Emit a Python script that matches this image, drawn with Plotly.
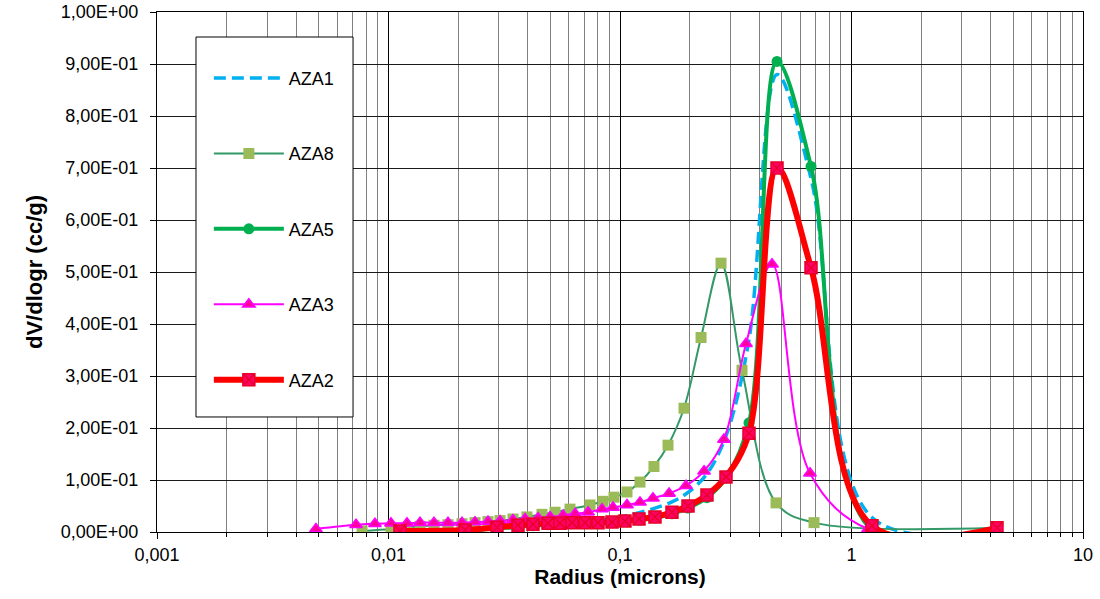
import plotly.graph_objects as go

# ---- data ----
x_aza3 = [0.00486, 0.00724, 0.00874, 0.01025, 0.01202, 0.01368, 0.01572, 0.01807, 0.02077,
          0.02364, 0.02690, 0.03032, 0.03450, 0.03889, 0.04426, 0.04989, 0.05677, 0.06399,
          0.07282, 0.08360, 0.09328, 0.1072, 0.1220, 0.1388, 0.1629, 0.1928, 0.2307, 0.2812,
          0.3502, 0.4535, 0.6617, 1.178, 4.251]
y_aza3 = [0.006, 0.014, 0.016, 0.017, 0.017, 0.018, 0.018, 0.018, 0.018,
          0.019, 0.020, 0.021, 0.023, 0.025, 0.027, 0.029, 0.032, 0.035,
          0.038, 0.044, 0.047, 0.052, 0.057, 0.065, 0.074, 0.089, 0.117, 0.178,
          0.362, 0.515, 0.113, 0.006, 0.002]

x_aza8 = [0.007685, 0.01025, 0.01202, 0.01368, 0.01572, 0.01807, 0.02077, 0.02364, 0.02690,
          0.03032, 0.03450, 0.03965, 0.04603, 0.05239, 0.06081, 0.07421, 0.08446, 0.09421,
          0.1072, 0.1220, 0.1402, 0.1612, 0.1890, 0.2239, 0.2731, 0.3365, 0.4720, 0.6887, 4.251]
y_aza8 = [0.002, 0.006, 0.009, 0.011, 0.013, 0.014, 0.016, 0.018, 0.020,
          0.022, 0.025, 0.029, 0.034, 0.038, 0.044, 0.052, 0.059, 0.067,
          0.077, 0.096, 0.126, 0.167, 0.238, 0.374, 0.517, 0.311, 0.056, 0.018, 0.008]

x_common = [0.01121, 0.02141, 0.02942, 0.03626, 0.04209, 0.04887, 0.05505, 0.06203, 0.07060,
            0.08035, 0.09235, 0.1051, 0.1208, 0.1416, 0.1677, 0.1967, 0.2375, 0.2870,
            0.3607, 0.4768, 0.6685, 1.226, 4.251]
y_aza2 = [0.002, 0.004, 0.009, 0.013, 0.015, 0.017, 0.017, 0.018, 0.018,
          0.018, 0.019, 0.021, 0.025, 0.029, 0.038, 0.050, 0.071, 0.106,
          0.190, 0.700, 0.508, 0.012, 0.008]
y_aza5 = [0.001, 0.003, 0.007, 0.010, 0.012, 0.014, 0.015, 0.016, 0.017,
          0.017, 0.018, 0.020, 0.023, 0.027, 0.035, 0.046, 0.066, 0.104,
          0.210, 0.905, 0.703, 0.004, 0.005]
y_aza1 = [0.001, 0.003, 0.006, 0.009, 0.011, 0.013, 0.015, 0.017, 0.019,
          0.022, 0.026, 0.031, 0.037, 0.046, 0.058, 0.076, 0.112, 0.185,
          0.370, 0.880, 0.680, 0.028, 0.005]

x_tickvals = [0.001, 0.01, 0.1, 1, 10]
x_ticktext = ["0,001", "0,01", "0,1", "1", "10"]
y_tickvals = [0, 0.1, 0.2, 0.3, 0.4, 0.5, 0.6, 0.7, 0.8, 0.9, 1.0]
y_ticktext = ["0,00E+00", "1,00E-01", "2,00E-01", "3,00E-01", "4,00E-01", "5,00E-01",
              "6,00E-01", "7,00E-01", "8,00E-01", "9,00E-01", "1,00E+00"]
minor_x = [m * 10 ** e for e in (-3, -2, -1, 0) for m in range(2, 10)]

FONT = "Arial, Liberation Sans, sans-serif"

fig = go.Figure()
fig.add_trace(go.Scatter(
    x=x_common, y=y_aza1, name="AZA1", mode="lines", legendgroup="1",
    line=dict(color="#00B0F0", width=3.5, dash="12px,6px", shape="spline", smoothing=1)))
fig.add_trace(go.Scatter(
    x=x_aza8, y=y_aza8, name="AZA8", mode="lines+markers", legendgroup="2",
    line=dict(color="#339966", width=2, shape="spline", smoothing=1),
    marker=dict(symbol="square", size=11, color="#9BBB59", line=dict(width=0))))
fig.add_trace(go.Scatter(
    x=x_common, y=y_aza5, name="AZA5", mode="lines+markers", legendgroup="3",
    line=dict(color="#00B050", width=4, shape="spline", smoothing=1),
    marker=dict(symbol="circle", size=11, color="#00B050", line=dict(width=0))))
fig.add_trace(go.Scatter(
    x=x_aza3, y=y_aza3, name="AZA3", mode="lines+markers", legendgroup="4",
    line=dict(color="#FF00FF", width=2, shape="spline", smoothing=1),
    marker=dict(symbol="triangle-up", size=11, color="#FF0099", line=dict(width=1.5, color="#FF00FF"))))
fig.add_trace(go.Scatter(
    x=x_common, y=y_aza2, name="AZA2", mode="lines+markers", legendgroup="5",
    line=dict(color="#FF0000", width=6, shape="spline", smoothing=1),
    marker=dict(symbol="square-x", size=12, color="#FF0066", line=dict(width=1.5, color="#E8002A"))))

# legend frame
fig.add_shape(type="rect", xref="paper", yref="paper",
              x0=0.0421, x1=0.2117, y0=0.2212, y1=0.9519,
              fillcolor="white", line=dict(color="black", width=1), layer="above")

fig.update_layout(
    width=1100, height=599,
    margin=dict(l=157, r=17, t=12, b=67, autoexpand=False),
    paper_bgcolor="white", plot_bgcolor="white",
    font=dict(family=FONT, size=18, color="black"),
    showlegend=True,
    legend=dict(x=0.056, y=0.908, xanchor="left", yanchor="top",
                bgcolor="rgba(0,0,0,0)", borderwidth=0,
                font=dict(family=FONT, size=18, color="black"),
                itemwidth=70, tracegroupgap=49, traceorder="grouped"),
    xaxis=dict(type="log", range=[-3, 1],
               tickvals=x_tickvals, ticktext=x_ticktext,
               ticks="outside", ticklen=6, tickcolor="black",
               showline=True, linecolor="black", linewidth=1, mirror=True,
               showgrid=True, gridcolor="#000000", gridwidth=1,
               minor=dict(tickvals=minor_x, showgrid=True, gridcolor="#808080", gridwidth=1,
                          ticks="outside", ticklen=4, tickcolor="black"),
               tickfont=dict(family=FONT, size=18),
               title=dict(text="<b>Radius (microns)</b>", font=dict(family=FONT, size=21), standoff=5),
               zeroline=False),
    yaxis=dict(range=[0, 1],
               tickvals=y_tickvals, ticktext=y_ticktext,
               ticks="outside", ticklen=6, tickcolor="black", ticklabelstandoff=8,
               showline=True, linecolor="black", linewidth=1, mirror=True,
               showgrid=True, gridcolor="#1a1a1a", gridwidth=1,
               tickfont=dict(family=FONT, size=18),
               title=dict(text="<b>dV/dlogr (cc/g)</b>", font=dict(family=FONT, size=22), standoff=12),
               zeroline=False),
)

fig.write_html("out.html")
